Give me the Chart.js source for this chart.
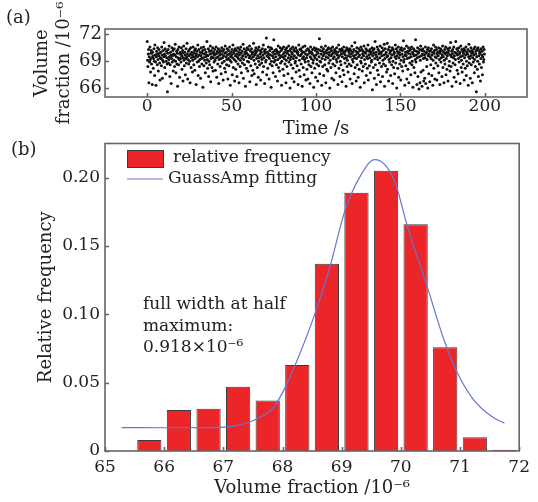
<!DOCTYPE html>
<html>
<head>
<meta charset="utf-8">
<script src="https://cdn.jsdelivr.net/npm/chart.js@4"></script>
<style>
  html, body { margin: 0; padding: 0; background: #fff; }
  #wrap { position: relative; width: 538px; height: 502px; }
  #timeChart { position: absolute; left: 0; top: 0; }
  #histChart { position: absolute; left: 0; top: 130px; }
</style>
</head>
<body>
<div id="wrap">
  <canvas id="timeChart" width="538" height="140"></canvas>
  <canvas id="histChart" width="538" height="372"></canvas>
</div>
<script>
// (a) volume fraction record, one sample every 0.2 s
const sampleStep = 0.2;
const volumeSamples = [
  71.2,69.1,68.4,69.8,70.3,66.6,69.5,68.9,70.6,69.2,67.8,69.9,70.2,68.7,69.4,66.4,70.0,69.6,68.2,69.3,
  70.4,69.0,67.4,70.8,69.7,68.9,66.3,69.5,70.1,69.8,68.6,70.5,69.2,67.9,69.6,70.3,69.9,68.8,66.9,69.4,
  70.0,69.3,68.5,70.6,69.7,67.1,69.1,70.2,68.9,69.5,71.1,69.8,68.3,70.4,69.6,67.6,69.0,70.1,69.4,68.7,
  65.6,69.9,70.3,68.8,69.2,70.7,69.5,67.3,68.6,70.0,69.7,66.5,69.3,70.5,68.9,69.6,70.2,67.9,69.8,69.1,
  70.4,68.4,69.7,70.9,69.0,67.7,69.5,70.1,68.7,69.9,66.2,70.3,69.4,68.6,70.6,69.2,67.2,69.8,70.0,69.3,
  68.9,70.5,69.6,68.1,69.9,70.2,66.8,69.4,70.7,69.1,68.5,70.0,69.7,67.5,69.3,70.4,68.8,69.5,71.0,69.8,
  67.0,69.2,70.1,68.7,69.6,70.3,69.0,66.6,69.8,70.5,68.3,69.4,70.0,69.7,67.8,69.1,70.6,69.5,68.6,69.9,
  70.2,68.0,69.3,70.4,69.6,66.4,69.8,70.1,68.9,69.5,70.8,67.4,69.0,70.3,69.7,68.4,69.2,70.0,67.1,69.6,
  70.5,69.3,68.7,69.9,70.2,66.1,69.4,70.6,68.5,69.8,69.1,70.3,67.7,69.5,70.0,68.8,69.7,71.2,69.2,68.2,
  69.6,70.4,67.3,69.0,70.1,68.6,69.8,70.7,66.7,69.3,70.2,69.5,68.3,69.9,70.5,67.9,69.4,70.0,68.9,69.7,
  70.3,69.1,68.0,69.8,70.6,69.4,67.2,69.9,70.1,68.7,69.5,70.4,66.5,69.2,70.0,69.7,68.4,70.2,69.3,67.6,
  69.8,70.5,68.8,69.4,70.1,66.9,69.6,70.3,69.0,68.2,69.9,70.7,67.8,69.5,70.0,68.6,69.2,70.4,69.7,67.0,
  69.3,70.2,68.5,69.8,70.6,69.1,66.3,69.5,70.0,68.9,69.7,70.3,67.5,69.4,70.8,68.3,69.9,70.1,69.2,66.8,
  70.4,69.6,68.1,69.0,70.2,69.8,67.3,69.5,70.5,68.7,69.3,70.0,66.6,69.7,70.3,68.4,69.1,70.6,69.9,67.7,
  69.4,70.1,68.8,69.6,70.9,67.1,69.2,70.4,68.6,69.8,70.0,66.2,69.5,70.2,68.2,69.9,70.5,69.0,67.9,69.7,
  70.3,68.9,69.4,70.7,66.7,69.6,70.1,68.5,69.3,70.4,67.4,69.8,70.0,68.0,69.5,71.0,69.1,67.6,69.7,70.2,
  68.7,69.9,70.5,66.4,69.3,70.1,68.3,69.6,70.3,67.2,69.0,70.6,69.4,68.6,69.8,70.2,66.9,69.5,70.0,68.8,
  69.2,70.4,67.8,69.7,70.8,68.4,69.4,70.1,66.5,69.9,70.3,68.9,69.1,71.6,67.5,69.6,70.0,68.2,69.5,70.6,
  69.8,67.0,69.3,70.2,68.7,69.7,70.5,66.1,69.0,70.4,68.5,69.6,70.0,67.7,69.4,71.4,68.9,69.8,70.2,69.1,
  67.3,69.5,70.3,68.6,69.9,70.1,66.8,69.2,70.7,68.3,69.7,70.0,67.9,69.4,70.5,68.8,69.6,70.2,66.3,69.0,
  70.4,69.5,68.1,69.8,70.6,67.4,69.3,70.0,68.7,69.6,70.3,66.6,69.1,70.5,68.4,69.9,70.1,67.6,69.4,70.7,
  68.9,69.7,70.2,66.0,69.2,70.4,68.6,69.5,70.0,67.1,69.8,70.6,68.2,69.3,70.3,66.7,69.6,70.1,68.8,69.0,
  70.5,67.8,69.4,70.2,68.5,69.9,70.0,66.4,69.7,70.8,68.0,69.1,70.3,67.3,69.6,70.4,68.7,69.8,70.1,66.2,
  69.3,70.6,68.3,69.5,70.0,67.5,69.2,70.7,68.9,69.8,66.9,70.2,69.4,68.1,69.7,70.4,67.0,69.0,70.3,68.6,
  69.9,70.1,66.5,69.5,70.6,68.4,69.3,70.0,67.7,69.8,70.3,68.8,69.1,66.1,69.6,70.5,68.2,69.4,70.2,67.2,
  69.7,70.4,68.7,69.2,70.0,66.8,69.9,70.3,68.5,69.5,71.5,67.6,69.0,70.2,68.9,69.8,70.6,66.3,69.3,70.1,
  68.4,69.6,70.4,67.4,69.8,70.0,68.6,69.2,70.7,66.6,69.5,70.2,68.1,69.9,70.3,67.9,69.4,70.5,68.8,69.7,
  70.0,66.0,69.1,70.4,68.3,69.6,70.2,67.1,69.8,70.6,68.7,69.3,70.0,66.9,69.5,70.3,68.5,69.9,70.1,67.7,
  69.2,70.5,68.9,69.7,70.0,66.4,69.4,70.8,68.2,69.6,70.3,67.3,69.0,70.1,68.6,69.8,70.4,66.7,69.5,70.2,
  68.0,69.9,70.6,67.5,69.3,70.0,68.8,69.7,70.2,66.2,69.4,70.5,68.4,69.1,70.3,67.8,69.6,70.1,68.7,69.9,
  70.4,67.0,69.5,70.2,68.5,69.8,70.7,66.5,69.2,70.0,68.9,69.6,70.3,67.6,69.4,71.1,68.3,69.7,70.1,66.8,
  69.3,70.5,68.6,69.9,70.0,67.2,69.5,70.4,68.1,69.7,70.2,66.1,69.0,70.6,68.8,69.4,70.3,67.9,69.8,70.1,
  68.4,69.6,70.7,66.6,69.2,70.0,68.7,69.9,70.4,67.4,69.5,70.2,68.2,69.3,70.8,66.9,69.7,70.1,68.5,69.4,
  70.3,67.7,69.8,70.0,68.9,69.1,70.5,65.8,69.6,70.2,68.3,69.9,70.4,67.1,69.3,71.2,68.6,69.7,70.0,66.4,
  69.5,70.6,68.0,69.2,70.3,67.5,69.8,70.1,68.8,69.4,70.7,66.7,69.9,70.0,68.4,69.6,70.5,67.3,69.1,70.2,
  68.7,69.7,70.9,66.2,69.3,70.4,68.5,69.8,70.0,67.8,69.5,71.0,68.1,69.6,70.3,66.8,69.2,70.6,68.9,69.9,
  70.1,67.4,69.4,70.2,68.6,69.7,70.5,66.5,69.0,70.3,68.3,69.8,70.0,67.6,69.5,70.8,68.8,69.3,70.4,66.0,
  69.6,70.1,68.2,69.9,70.6,67.2,69.4,70.0,68.7,69.7,70.3,66.9,69.1,70.5,68.4,69.8,70.2,67.9,69.5,71.3,
  68.9,69.2,70.4,66.3,69.7,70.0,68.5,69.6,70.7,67.0,69.3,70.1,68.1,69.9,70.5,66.6,69.4,70.2,68.8,69.8,
  70.3,67.5,69.5,70.6,68.6,69.0,70.0,66.1,69.8,70.4,68.3,69.6,70.2,67.7,69.2,71.4,68.9,69.7,70.1,66.4,
  69.4,70.5,67.3,69.9,70.0,65.9,69.5,70.3,66.6,69.1,70.7,67.8,69.6,70.2,66.2,69.8,70.4,68.0,69.3,66.8,
  70.1,69.7,67.1,69.4,70.6,66.5,69.9,70.0,68.4,69.2,70.3,66.0,69.6,70.5,67.6,69.8,70.1,66.7,69.5,70.2,
  68.6,69.3,70.4,67.4,69.7,70.0,66.3,69.1,70.8,68.2,69.9,70.2,67.0,69.5,70.6,68.8,69.4,70.3,66.9,69.8,
  70.0,68.5,69.6,70.5,67.7,69.2,70.1,66.4,69.9,70.4,68.9,69.4,70.2,67.3,69.7,70.7,68.3,69.5,70.0,66.6,
  69.1,70.3,68.7,69.8,70.6,67.5,69.3,70.0,68.1,69.6,70.4,66.8,69.9,70.2,68.5,69.0,70.5,67.9,69.7,71.1,
  68.4,69.5,70.1,66.2,69.8,70.3,68.8,69.4,70.6,67.2,69.6,70.0,68.6,69.2,71.2,66.7,69.9,70.4,68.0,69.7,
  70.2,67.6,69.3,70.5,68.9,69.8,70.0,66.5,69.5,70.7,68.3,69.1,70.3,67.8,69.6,70.1,68.7,69.9,70.4,66.9,
  69.4,70.2,68.2,69.7,70.6,67.4,69.0,70.0,68.5,69.8,70.3,66.3,69.5,70.9,68.8,69.3,70.1,67.1,69.6,70.5,
  68.6,69.9,70.2,66.6,69.4,70.0,68.9,69.7,70.4,67.7,69.2,70.6,68.4,69.8,70.1,65.6,69.5,70.3,68.1,69.0,
  70.5,67.3,69.6,70.2,68.7,69.9,70.0,66.8,69.3,70.4,68.3,69.7,70.1,67.5,69.5,70.6,68.9,69.2,70.3,69.8
];
const timeTicks = [0, 50, 100, 150, 200];
const volumeTicks = [66, 69, 72];

// (b) histogram, bin width 0.5
const binCenters = [65.75, 66.25, 66.75, 67.25, 67.75, 68.25, 68.75, 69.25, 69.75, 70.25, 70.75, 71.25, 71.75];
const relFreq = [0.008, 0.030, 0.031, 0.047, 0.037, 0.063, 0.137, 0.189, 0.205, 0.166, 0.076, 0.010, 0.001];
const fitX = [65.28, 66.0, 66.75, 67.24, 67.57, 67.85, 68.04, 68.23, 68.54, 68.79, 69.06, 69.3, 69.56, 69.89, 70.11, 70.44, 70.72, 70.94, 71.22, 71.55, 71.75];
const fitY = [0.0171, 0.0170, 0.0171, 0.0188, 0.0236, 0.032, 0.046, 0.0645, 0.0994, 0.133, 0.1764, 0.2, 0.2132, 0.198, 0.1644, 0.121, 0.0825, 0.0585, 0.038, 0.0248, 0.0204];
const fractionTicks = [65, 66, 67, 68, 69, 70, 71, 72];
const freqTicks = [0, 0.05, 0.10, 0.15, 0.20];

const serif = "'DejaVu Serif', serif";
const ink = '#222';
const f = (size) => ({ family: serif, size: size, lineHeight: 1.2 });

// box round the plot area plus short inward ticks
const frame = {
  id: 'frame',
  afterDatasetsDraw(chart) {
    const { ctx, chartArea: a, scales } = chart;
    ctx.save();
    ctx.strokeStyle = '#666';
    ctx.lineWidth = 1.6;
    ctx.beginPath();
    scales.x.ticks.forEach(t => {
      const px = Math.round(scales.x.getPixelForValue(t.value)) + 0.5;
      ctx.moveTo(px, a.bottom);
      ctx.lineTo(px, a.bottom - 4);
    });
    scales.y.ticks.forEach(t => {
      const py = Math.round(scales.y.getPixelForValue(t.value)) + 0.5;
      ctx.moveTo(a.left, py);
      ctx.lineTo(a.left + 4, py);
    });
    ctx.stroke();
    ctx.strokeRect(a.left, a.top, a.width, a.height);
    ctx.restore();
  }
};

const labelA = {
  id: 'labelA',
  afterDraw(chart) {
    const ctx = chart.ctx;
    ctx.save();
    ctx.fillStyle = ink;
    ctx.font = "18px " + serif;
    ctx.textBaseline = 'middle';
    ctx.fillText('(a)', 6, 18);
    ctx.restore();
  }
};

new Chart(document.getElementById('timeChart'), {
  type: 'scatter',
  data: {
    datasets: [{
      label: 'volume fraction',
      data: volumeSamples.map((v, i) => ({ x: i * sampleStep, y: v })),
      pointRadius: 1.5,
      pointBackgroundColor: '#111',
      pointBorderWidth: 0
    }]
  },
  options: {
    responsive: false,
    animation: false,
    layout: { padding: { left: 0, top: 29, right: 11, bottom: 0 } },
    plugins: { legend: { display: false }, tooltip: { enabled: false } },
    scales: {
      x: {
        type: 'linear', min: -25, max: 225,
        grid: { display: false, drawTicks: false }, border: { display: false },
        afterBuildTicks: s => { s.ticks = timeTicks.map(v => ({ value: v })); },
        afterFit: s => { s.height = 43; },
        ticks: { padding: 1, color: ink, font: { family: serif, size: 17, lineHeight: 1 }, maxRotation: 0, autoSkip: false },
        title: { display: true, text: 'Time /s', color: ink, font: f(18), padding: { top: 0, bottom: 0 } }
      },
      y: {
        min: 65.0, max: 72.6,
        grid: { display: false, drawTicks: false }, border: { display: false },
        afterBuildTicks: s => { s.ticks = volumeTicks.map(v => ({ value: v })); },
        afterFit: s => { s.width = 105; },
        ticks: { padding: 3, color: ink, font: { family: serif, size: 18, lineHeight: 1 } },
        title: { display: true, text: ['Volume', 'fraction /10⁻⁶'], color: ink, font: { family: serif, size: 18, lineHeight: 1.25 }, padding: { top: 31, bottom: 0 } }
      }
    }
  },
  plugins: [frame, labelA]
});

// legend, note and panel label of (b)
const notesB = {
  id: 'notesB',
  afterDraw(chart) {
    const ctx = chart.ctx;
    const bars = chart.data.datasets[1];
    const fit = chart.data.datasets[0];
    ctx.save();
    ctx.fillStyle = ink;
    ctx.font = "18px " + serif;
    ctx.textBaseline = 'middle';
    ctx.fillText('(b)', 11, 20);

    ctx.fillStyle = bars.backgroundColor;
    ctx.fillRect(127, 20, 36, 17);
    ctx.strokeStyle = bars.borderColor;
    ctx.lineWidth = 1;
    ctx.strokeRect(127.5, 20.5, 36, 17);
    ctx.strokeStyle = fit.borderColor;
    ctx.lineWidth = 1.2;
    ctx.beginPath();
    ctx.moveTo(127, 49);
    ctx.lineTo(163, 49);
    ctx.stroke();

    ctx.fillStyle = ink;
    ctx.font = "17px " + serif;
    ctx.fillText(bars.label, 173, 28);
    ctx.fillText(fit.label, 168, 49);

    ctx.fillText('full width at half', 143, 175);
    ctx.fillText('maximum:', 143, 197);
    ctx.fillText('0.918×10⁻⁶', 143, 218);
    ctx.restore();
  }
};

new Chart(document.getElementById('histChart'), {
  type: 'bar',
  data: {
    datasets: [
      {
        type: 'line',
        label: 'GuassAmp fitting',
        data: fitX.map((x, i) => ({ x: x, y: fitY[i] })),
        borderColor: '#6675d4',
        borderWidth: 1.2,
        pointRadius: 0,
        cubicInterpolationMode: 'monotone',
        fill: false,
        order: 0
      },
      {
        label: 'relative frequency',
        data: binCenters.map((x, i) => ({ x: x, y: relFreq[i] })),
        backgroundColor: '#ec2528',
        borderColor: '#3c3c3c',
        borderWidth: 1,
        barPercentage: 0.82,
        categoryPercentage: 1,
        order: 1
      }
    ]
  },
  options: {
    responsive: false,
    animation: false,
    layout: { padding: { left: 0, top: 10, right: 11, bottom: 0 } },
    plugins: { legend: { display: false }, tooltip: { enabled: false } },
    scales: {
      x: {
        type: 'linear', min: 65, max: 72, offset: false,
        grid: { display: false, drawTicks: false, offset: false }, border: { display: false },
        afterBuildTicks: s => { s.ticks = fractionTicks.map(v => ({ value: v })); },
        afterFit: s => { s.height = 51; },
        ticks: { padding: 8, color: ink, font: { family: serif, size: 17, lineHeight: 1 }, maxRotation: 0, autoSkip: false, callback: v => String(v) },
        title: { display: true, text: 'Volume fraction /10⁻⁶', color: ink, font: f(18), padding: { top: 0, bottom: 3 } }
      },
      y: {
        min: 0, max: 0.225,
        grid: { display: false, drawTicks: false }, border: { display: false },
        afterBuildTicks: s => { s.ticks = freqTicks.map(v => ({ value: v })); },
        afterFit: s => { s.width = 105; },
        ticks: { padding: 5, color: ink, font: { family: serif, size: 17, lineHeight: 1 }, callback: v => v === 0 ? '0' : v.toFixed(2) },
        title: { display: true, text: 'Relative frequency', color: ink, font: f(18), padding: { top: 36, bottom: 0 } }
      }
    }
  },
  plugins: [frame, notesB]
});
</script>
</body>
</html>
